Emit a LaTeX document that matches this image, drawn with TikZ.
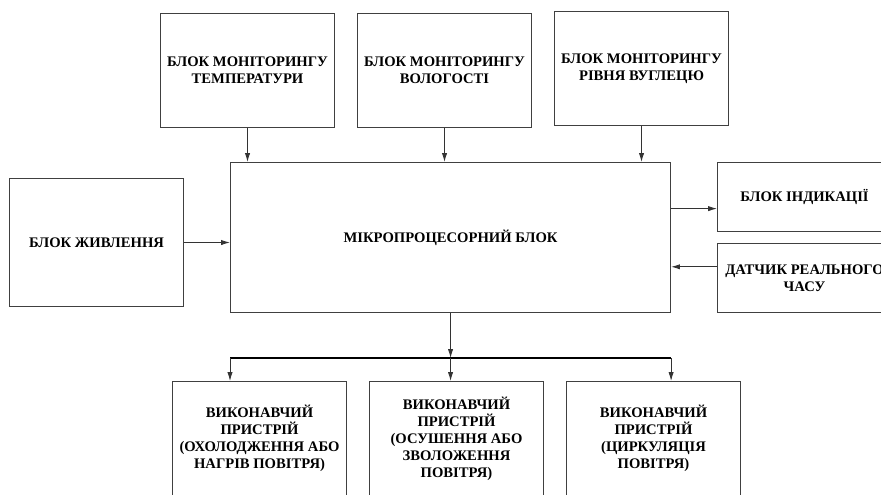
\documentclass[tikz,border=0pt]{standalone}
\usepackage{fontspec}
\setmainfont{Liberation Serif}
\usetikzlibrary{arrows.meta,positioning}

\begin{document}
\begin{tikzpicture}[x=0.025cm, y=-0.025cm,
		font=\bfseries\fontsize{10.4}{12.1}\selectfont,
		blok/.style={rectangle, draw=black!75, line width=0.7pt, align=center, inner sep=0pt, minimum width=4.35cm, minimum height=2.85cm},
		arrow/.style={line width=0.6pt, draw=black!80, -{Latex[length=2.2mm,width=1.3mm]}}
	]
	\useasboundingbox (0,0) rectangle (881,494);
	\clip (0,0) rectangle (881,494);

	% central block
	\node (mcu) [blok, minimum width=11cm, minimum height=3.75cm, anchor=north west] at (230,162) {МІКРОПРОЦЕСОРНИЙ БЛОК};

	% monitoring blocks
	\node (temp) [blok, anchor=north west] at (160,13) {БЛОК МОНІТОРИНГУ\\ТЕМПЕРАТУРИ};
	\node (vol)  [blok, anchor=north west] at (357,13) {БЛОК МОНІТОРИНГУ\\ВОЛОГОСТІ};
	\node (co)   [blok, anchor=north west] at (554,11) {БЛОК МОНІТОРИНГУ\\РІВНЯ ВУГЛЕЦЮ};

	\node (power) [blok, minimum height=3.2cm, anchor=north west] at (9,178) {БЛОК ЖИВЛЕННЯ};
	\node (ind) [blok, minimum height=1.725cm, anchor=north west] at (717,162) {БЛОК ІНДИКАЦІЇ};
	\node (rtc) [blok, minimum height=1.725cm, anchor=north west] at (717,243) {ДАТЧИК РЕАЛЬНОГО\\ЧАСУ};

	% actuators
	\node (act1) [blok, anchor=north west] at (172,381) {ВИКОНАВЧИЙ\\ПРИСТРІЙ\\(ОХОЛОДЖЕННЯ АБО\\НАГРІВ ПОВІТРЯ)};
	\node (act2) [blok, anchor=north west] at (369,381) {ВИКОНАВЧИЙ\\ПРИСТРІЙ\\(ОСУШЕННЯ АБО\\ЗВОЛОЖЕННЯ\\ПОВІТРЯ)};
	\node (act3) [blok, anchor=north west] at (566,381) {ВИКОНАВЧИЙ\\ПРИСТРІЙ\\(ЦИРКУЛЯЦІЯ\\ПОВІТРЯ)};

	\draw [arrow] (temp.south) -- (temp.south |- mcu.north);
	\draw [arrow] (vol.south) -- (vol.south |- mcu.north);
	\draw [arrow] (co.south) -- (co.south |- mcu.north);
	\draw [arrow] (power.east) -- (power.east -| mcu.west);
	\draw [arrow] ([yshift=-0.29cm]ind.west -| mcu.east) -- ([yshift=-0.29cm]ind.west);
	\draw [arrow] ([yshift=0.28cm]rtc.west) -- ([yshift=0.28cm]rtc.west -| mcu.east);

	% bus to actuators
	\coordinate (bus) at (mcu.south |- 0,358);
	\draw [arrow] (mcu.south) -- (bus);
	\draw [line width=0.9pt] (mcu.south west |- bus) -- (mcu.south east |- bus);
	\draw [arrow] (mcu.south west |- bus) -- (mcu.south west |- act1.north);
	\draw [arrow] (bus) -- (bus |- act2.north);
	\draw [arrow] (mcu.south east |- bus) -- (mcu.south east |- act3.north);
\end{tikzpicture}
\end{document}
